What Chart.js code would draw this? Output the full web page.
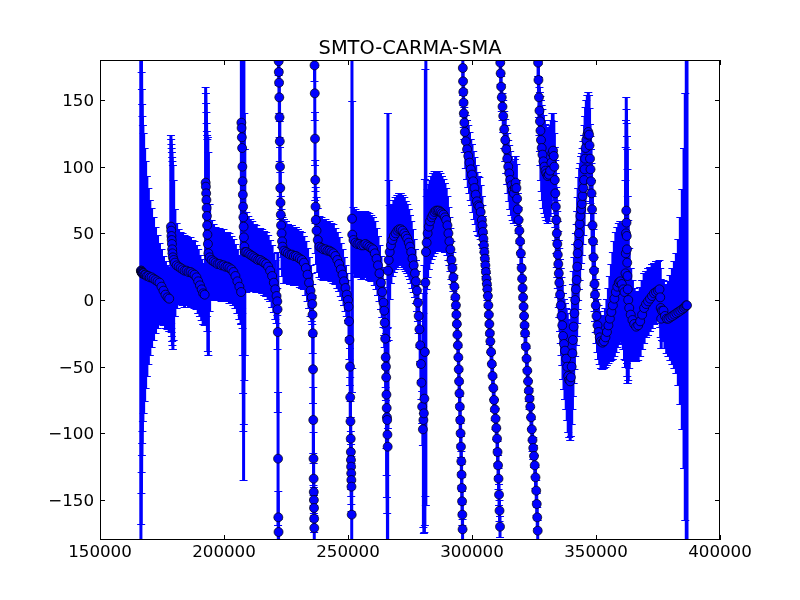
<!DOCTYPE html>
<html>
<head>
<meta charset="utf-8">
<script src="https://cdn.jsdelivr.net/npm/chart.js@4.4.0/dist/chart.umd.min.js"></script>
<style>
  html, body { margin: 0; padding: 0; background: #fff; }
</style>
</head>
<body>
<canvas id="phaseChart" width="800" height="600"></canvas>
<script>
// DATA
// time in units of 1000, closure phase and its error in degrees
const time = [
  166.5, 166.6, 166.7, 166.8, 166.9, 167.0, 167.1, 167.3, 167.6, 168.0, 168.4, 168.9, 169.5, 170.1, 170.8, 171.6, 172.4, 173.2, 174.0, 174.8, 175.6, 176.4, 177.2,
  177.9, 178.6, 178.7, 178.8, 178.9, 179.0, 179.1, 179.2, 179.4, 179.7,
  180.2, 180.9, 181.7, 182.5, 183.3, 184.1, 184.9, 185.7, 186.5, 187.3, 188.1, 188.9, 189.6, 190.3, 191.0, 191.6, 192.2,
  192.6, 192.7, 192.8, 192.9, 193.0, 193.1, 193.2, 193.3, 193.5, 193.7,
  194.2, 195.0, 195.8, 196.6, 197.4, 198.2, 199.0, 199.8, 200.6, 201.4, 202.2, 203.0, 203.8, 204.6, 205.4, 206.2, 206.9,
  207.0, 207.1, 207.2, 207.3, 207.4, 207.5, 207.6, 207.7, 207.8, 207.9, 208.0, 208.2, 208.4,
  209.0, 209.8, 210.6, 211.4, 212.2, 213.0, 213.8, 214.6, 215.4, 216.2, 217.0, 217.8, 218.6, 219.4, 220.1, 220.7, 221.2,
  221.5, 221.6, 221.7, 221.8, 221.9, 222.0, 222.05, 222.1, 222.2, 222.3, 222.4, 222.5, 222.6, 222.7, 222.8, 222.9, 223.0, 223.2, 223.4, 223.6,
  224.2, 225.0, 225.8, 226.6, 227.4, 228.2, 229.0, 229.8, 230.6, 231.4, 232.2, 233.0, 233.7, 234.3, 234.9, 235.4,
  235.6, 235.7, 235.8, 235.9, 236.0, 236.1, 236.15, 236.2, 236.25, 236.3, 236.35, 236.4, 236.5, 236.6, 236.7, 236.8, 236.9, 237.0,
  237.3, 237.8, 238.5, 239.3, 240.1, 240.9, 241.7, 242.5, 243.3, 244.1, 244.9, 245.7, 246.4, 247.1, 247.8, 248.4, 249.0, 249.5, 250.0,
  250.2, 250.4, 250.6, 250.8, 250.9, 251.0, 251.1, 251.15, 251.2, 251.25, 251.3, 251.35, 251.4, 251.5, 251.6, 251.7,
  252.2, 253.0, 253.8, 254.6, 255.4, 256.2, 257.0, 257.8, 258.6, 259.4, 260.1, 260.8, 261.5, 262.1, 262.7, 263.3, 263.8, 264.3,
  264.6, 264.8, 265.0, 265.2, 265.3, 265.4, 265.5, 265.6, 265.7, 265.8, 265.9, 266.0,
  266.1, 266.4, 266.8, 267.3, 267.9, 268.5, 269.2, 269.9, 270.6, 271.3, 272.0, 272.7, 273.3, 273.9, 274.5,
  275.0, 275.5, 276.0, 276.5, 277.0, 277.4, 277.8, 278.2, 278.5, 278.8, 279.1, 279.4, 279.6, 279.9, 280.2,
  280.4, 280.6, 280.8, 281.0, 281.2, 281.4,
  281.7, 282.1, 282.6, 283.1, 283.7, 284.3, 284.9, 285.5, 286.1, 286.7, 287.3, 287.9, 288.5, 289.1, 289.6, 290.1, 290.5, 290.9, 291.3, 291.7,
  292.1, 292.5, 292.9, 293.3, 293.5, 293.7, 293.9, 294.1, 294.3, 294.5, 294.65, 294.8, 294.95, 295.1, 295.25, 295.4, 295.55, 295.7, 295.8, 295.9,
  296.0, 296.1, 296.2,
  296.3, 296.4, 296.5, 296.6, 296.7, 296.9, 297.1, 297.5, 298.0, 298.5, 299.0, 299.5, 300.0, 300.5, 301.0, 301.5, 302.0, 302.5, 303.0, 303.5,
  304.0, 304.2, 304.4, 304.6, 304.8, 305.0, 305.2, 305.4, 305.6, 305.8, 306.0, 306.2, 306.4, 306.6, 306.8, 307.0, 307.2, 307.4, 307.7, 308.0,
  308.3, 308.6, 308.9, 309.2, 309.5, 309.8, 310.1, 310.3, 310.5, 310.7, 310.9, 311.1, 311.3,
  311.4, 311.55, 311.75, 312.0, 312.3, 312.6, 313.0, 313.4, 313.8, 314.2, 314.6, 315.0, 315.4, 315.9, 316.4, 316.9, 317.3, 317.6, 317.9, 318.2,
  318.5, 318.8, 319.1, 319.4, 319.7, 320.0, 320.2, 320.4, 320.6, 320.8, 321.0, 321.2, 321.4, 321.7, 322.0, 322.3, 322.6, 322.9, 323.2, 323.5,
  323.8, 324.1, 324.4, 324.7, 325.0, 325.3, 325.6, 325.9, 326.1, 326.3, 326.5,
  326.65, 326.8, 327.0, 327.2, 327.4, 327.6, 327.8, 328.1, 328.4, 328.8, 329.2, 329.6, 330.0, 330.5, 331.0, 331.5, 332.0, 332.4, 332.7, 333.0,
  333.2, 333.4, 333.6, 333.8, 334.0, 334.2, 334.4, 334.6, 334.8, 335.0, 335.2, 335.5, 335.8, 336.1, 336.4, 336.7, 337.1, 337.5, 338.0, 338.4,
  338.8, 339.2, 339.6,
  339.9, 340.2, 340.5, 340.7, 341.0, 341.3, 341.6, 341.9, 342.2, 342.4, 342.6, 342.8, 343.1, 343.4, 343.7, 344.0, 344.3, 344.6, 344.9, 345.2,
  345.4, 345.6, 345.8, 346.1, 346.5, 346.9, 347.2,
  347.4, 347.6, 347.8, 348.0, 348.2, 348.4, 348.6, 348.8, 349.0, 349.2, 349.4, 349.6, 349.9, 350.2, 350.6, 351.0, 351.5, 352.0, 352.6, 353.2,
  353.8, 354.4, 355.0, 355.6, 356.2, 356.8, 357.4, 358.0, 358.6, 359.2, 359.8, 360.4, 361.0, 361.5, 361.9, 362.0, 362.1, 362.2, 362.3, 362.4,
  362.5, 362.6, 362.7, 362.8, 363.0, 363.4, 364.0, 364.7, 365.4, 366.2, 367.0, 367.8, 368.6, 369.4, 370.2, 371.0, 371.8, 372.6, 373.4, 374.2,
  375.0, 375.6, 375.9, 376.1, 376.3, 376.6, 377.2, 377.8, 378.5, 379.2, 380.0, 380.8, 381.6, 382.4, 383.2, 384.0, 384.8, 385.5, 386.0, 386.4,
  386.7
];

const phase = [
  22, 22, 21, 21, 21, 20, 20, 20, 20, 19, 19, 18, 18, 17, 17, 16, 15, 14, 13, 10, 7, 4, 2,
  1, 55, 52, 48, 45, 42, 38, 35, 32, 30,
  28, 26, 25, 24, 23, 22, 22, 21, 21, 20, 19, 17, 14, 11, 8, 5, 4,
  88, 85, 80, 75, 69, 63, 56, 49, 42, 35,
  32, 30, 29, 28, 27, 27, 26, 26, 25, 25, 24, 23, 21, 18, 14, 10, 6,
  133, 129, 122, 114, 100, 89, 79, 70, 62, 55, 47, 40, 36,
  36, 35, 34, 33, 32, 31, 30, 30, 29, 28, 27, 25, 22, 18, 13, 8, 3,
  -1, -7, -24, -119, -163, -174, 179, 171, 163, 152, 137, 119, 100, 84, 73, 64, 56, 50, 44, 40,
  37, 36, 35, 34, 34, 33, 33, 32, 31, 30, 28, 24, 19, 13, 7, 2,
  -3, -11, -25, -52, -90, -119, -134, -144, -150, -156, -164, -171, 176, 155, 121, 90, 70, 60,
  52, 45, 40, 39, 38, 38, 37, 37, 36, 35, 33, 30, 27, 23, 19, 14, 9, 4, 0,
  -5, -16, -30, -50, -73, -91, -104, -114, -120, -125, -130, -135, -140, -161, 61, 49,
  45, 43, 42, 42, 41, 41, 42, 41, 40, 39, 38, 35, 31, 26, 20, 13, 6, -2,
  -8, -17, -29, -43, -50, -58, -71, -81, -88, -90, -101, -110,
  22, 30, 36, 41, 45, 48, 50, 52, 53, 53, 52, 50, 48, 46, 43,
  40, 36, 31, 26, 20, 14, 7, -2, -12, -22, -34, -48, -62, -80, -97,
  -90, -85, -74, -39, 13, 36,
  43, 50, 55, 59, 62, 64, 66, 67, 67, 67, 66, 65, 64, 62, 60, 56, 50, 44, 38, 30,
  24, 17, 10, 2, -4, -11, -18, -26, -34, -43, -52, -61, -70, -80, -90, -100, -110, -121, -131, -141,
  -151, -161, -172,
  174, 164, 156, 148, 140, 133, 126, 119, 113, 108, 103, 98, 94, 89, 84, 79, 74, 71, 70, 66,
  60, 56, 51, 46, 41, 36, 31, 26, 21, 16, 12, 8, 3, -4, -11, -18, -25, -31, -39, -48,
  -57, -66, -75, -82, -89, -96, -104, -114, -124, -134, -146, -158, -170,
  178, 170, 160, 152, 145, 138, 128, 120, 113, 106, 100, 95, 90, 86, 82, 80, 84, 88, 84, 76,
  68, 60, 52, 44, 35, 24, 16, 9, 2, -5, -12, -19, -25, -35, -44, -53, -61, -68, -74, -80,
  -88, -97, -105, -111, -117, -124, -133, -143, -153, -163, -173,
  178, 165, 152, 142, 134, 127, 120, 114, 109, 104, 100, 97, 95, 93, 94, 97, 103, 110, 112, 108,
  100, 90, 80, 70, 60, 50, 42, 34, 27, 20, 13, 4, -4, -12, -19, -27, -33, -38, -44, -50,
  -57, -60, -61,
  -58, -50, -40, -30, -20, -10, 0, 8, 15, 25, 35, 42, 50, 57, 63, 68, 72, 78, 84, 90,
  98, 106, 114, 120, 124, 126, 124,
  116, 106, 98, 89, 80, 68, 56, 44, 32, 22, 12, 4, -4, -12, -19, -24, -28, -31, -32, -31,
  -28, -24, -19, -14, -9, -4, 1, 6, 10, 13, 14, 12, 8, 6, 20, 35, 50, 67, 58, 48,
  38, 28, 18, 8, 0, -6, -11, -15, -18, -20, -19, -16, -11, -6, -3, -1, 1, 3, 5, 6,
  7, 8, 2, -6, -14, -8, -8, -12, -14, -14, -13, -12, -11, -10, -9, -8, -7, -6, -5, -4,
  -4
];

const phaseErr = [
  260, 190, 166, 150, 137, 127, 118, 111, 105, 95, 85, 75, 66, 58, 52, 46, 40, 35, 30, 28, 26, 25, 24,
  24, 69, 69, 69, 69, 69, 69, 69, 69, 60,
  40, 32, 28, 27, 27, 27, 26, 26, 26, 25, 25, 24, 24, 23, 23, 23, 23,
  72, 70, 68, 66, 64, 64, 68, 72, 80, 76,
  40, 30, 28, 27, 27, 27, 27, 27, 26, 26, 26, 25, 25, 24, 24, 24, 24,
  150, 140, 130, 120, 110, 110, 120, 140, 160, 190, 140, 100, 77,
  30, 28, 27, 26, 25, 25, 24, 24, 24, 24, 24, 24, 23, 23, 22, 22, 20,
  10, 30, 60, 50, 20, 10, 10, 10, 10, 12, 15, 15, 15, 12, 12, 14, 16, 18, 20, 22,
  24, 23, 22, 22, 22, 22, 22, 21, 21, 21, 20, 20, 20, 19, 19, 18,
  15, 15, 15, 25, 25, 20, 12, 10, 10, 10, 10, 10, 12, 20, 20, 15, 12, 25,
  25, 24, 23, 23, 23, 23, 22, 22, 22, 22, 21, 21, 20, 20, 19, 18, 17, 16, 15,
  12, 12, 14, 14, 15, 15, 16, 16, 16, 17, 17, 18, 18, 25, 130, 100,
  25, 25, 25, 25, 25, 25, 25, 25, 25, 25, 24, 24, 23, 22, 21, 20, 19, 18,
  18, 18, 20, 22, 25, 30, 40, 50, 60, 70, 80, 90,
  118, 60, 35, 28, 27, 27, 27, 27, 27, 27, 27, 27, 26, 26, 25,
  24, 23, 22, 20, 18, 16, 15, 14, 13, 13, 12, 12, 12, 12, 12,
  80, 90, 100, 130, 160, 190,
  35, 33, 32, 31, 31, 31, 31, 30, 30, 30, 29, 28, 27, 26, 24, 22, 20, 18, 16, 14,
  12, 10, 9, 8, 8, 8, 8, 8, 8, 8, 8, 8, 8, 8, 8, 8, 8, 8, 8, 8,
  8, 8, 8,
  10, 10, 10, 10, 10, 12, 15, 20, 22, 23, 23, 23, 23, 23, 23, 22, 22, 22, 22, 20,
  18, 15, 12, 10, 9, 8, 8, 8, 8, 8, 8, 8, 8, 8, 8, 8, 8, 8, 8, 8,
  8, 8, 8, 8, 8, 8, 8, 8, 8, 8, 8, 8, 8,
  8, 8, 8, 10, 10, 12, 14, 16, 18, 19, 20, 21, 22, 22, 22, 22, 22, 20, 18, 14,
  12, 10, 9, 8, 8, 8, 8, 8, 8, 8, 8, 8, 8, 8, 8, 8, 8, 8, 8, 8,
  8, 8, 8, 8, 8, 8, 8, 8, 8, 8, 8,
  10, 12, 15, 18, 22, 26, 30, 32, 34, 35, 35, 35, 35, 35, 35, 34, 32, 30, 28, 26,
  25, 25, 25, 25, 25, 25, 25, 25, 25, 25, 26, 27, 28, 29, 30, 32, 34, 36, 38, 40,
  42, 43, 44,
  44, 43, 42, 42, 42, 42, 42, 42, 42, 42, 42, 42, 42, 42, 40, 40, 38, 36, 35, 34,
  33, 32, 31, 30, 30, 30, 30,
  28, 26, 25, 24, 23, 22, 22, 21, 21, 20, 20, 20, 20, 20, 20, 20, 20, 20, 20, 20,
  22, 25, 28, 32, 36, 40, 43, 45, 45, 45, 45, 45, 45, 50, 70, 80, 85, 85, 85, 85,
  85, 85, 80, 70, 60, 45, 35, 30, 27, 26, 26, 26, 26, 26, 25, 25, 24, 24, 23, 23,
  22, 22, 22, 22, 22, 22, 23, 24, 26, 28, 32, 36, 40, 45, 55, 70, 90, 120, 160, 200,
  260
];

const xTicks = [150000, 200000, 250000, 300000, 350000, 400000];
const yTicks = [-150, -100, -50, 0, 50, 100, 150];
const chartTitle = 'SMTO-CARMA-SMA';

const nPts = Math.min(time.length, phase.length, phaseErr.length);
if (nPts !== time.length || nPts !== phase.length || nPts !== phaseErr.length) {
  console.warn('array lengths differ', time.length, phase.length, phaseErr.length);
}
const points = [];
for (let i = 0; i < nPts; i++) {
  points.push({ x: time[i] * 1000, y: phase[i], err: phaseErr[i] });
}

// ERROR BARS (drawn under the markers)
const errorBars = {
  id: 'errorBars',
  beforeDatasetsDraw(chart) {
    const { ctx, chartArea: area, scales: { x, y } } = chart;
    ctx.save();
    ctx.beginPath();
    ctx.rect(area.left, area.top, area.right - area.left, area.bottom - area.top);
    ctx.clip();
    ctx.strokeStyle = '#0000ff';
    chart.data.datasets[0].data.forEach(p => {
      const px = x.getPixelForValue(p.x);
      const top = Math.round(y.getPixelForValue(p.y + p.err)) + 0.5;
      const bot = Math.round(y.getPixelForValue(p.y - p.err)) + 0.5;
      ctx.lineWidth = 3;
      ctx.beginPath();
      ctx.moveTo(px, top);
      ctx.lineTo(px, bot);
      ctx.stroke();
      ctx.lineWidth = 1;
      ctx.beginPath();
      ctx.moveTo(px - 4, top); ctx.lineTo(px + 4, top);
      ctx.moveTo(px - 4, bot); ctx.lineTo(px + 4, bot);
      ctx.stroke();
    });
    ctx.restore();
  }
};

// FRAME, INWARD TICKS, LABELS, TITLE
const mplAxes = {
  id: 'mplAxes',
  afterDraw(chart) {
    const { ctx, chartArea: area, scales: { x, y } } = chart;
    const tickLen = 5;
    ctx.save();
    ctx.strokeStyle = '#000';
    ctx.lineWidth = 1;
    ctx.strokeRect(area.left + 0.5, area.top + 0.5, area.right - area.left - 1, area.bottom - area.top - 1);

    ctx.fillStyle = '#000';
    ctx.font = '16.7px "DejaVu Sans"';
    ctx.beginPath();
    xTicks.forEach(v => {
      const px = Math.round(x.getPixelForValue(v)) + 0.5;
      ctx.moveTo(px, area.bottom); ctx.lineTo(px, area.bottom - tickLen);
      ctx.moveTo(px, area.top); ctx.lineTo(px, area.top + tickLen);
    });
    yTicks.forEach(v => {
      const py = Math.round(y.getPixelForValue(v)) + 0.5;
      ctx.moveTo(area.left, py); ctx.lineTo(area.left + tickLen, py);
      ctx.moveTo(area.right, py); ctx.lineTo(area.right - tickLen, py);
    });
    ctx.stroke();

    ctx.textAlign = 'center';
    ctx.textBaseline = 'alphabetic';
    xTicks.forEach(v => {
      ctx.fillText(String(v), x.getPixelForValue(v), area.bottom + 17);
    });
    ctx.textAlign = 'right';
    yTicks.forEach(v => {
      const label = v < 0 ? '\u2212' + Math.abs(v) : String(v);
      ctx.fillText(label, area.left - 6, y.getPixelForValue(v) + 6);
    });

    ctx.textAlign = 'center';
    ctx.font = '19.4px "DejaVu Sans"';
    ctx.fillText(chartTitle, (area.left + area.right) / 2, area.top - 6);
    ctx.restore();
  }
};

const ctx = document.getElementById('phaseChart').getContext('2d');
new Chart(ctx, {
  type: 'scatter',
  data: {
    datasets: [{
      data: points,
      pointRadius: 4.5,
      pointHoverRadius: 4.5,
      pointBackgroundColor: '#0000ff',
      pointBorderColor: '#000',
      pointBorderWidth: 0.7,
      showLine: false
    }]
  },
  options: {
    responsive: false,
    animation: false,
    events: [],
    layout: { padding: { left: 100, right: 80, top: 60, bottom: 60 } },
    plugins: {
      legend: { display: false },
      tooltip: { enabled: false }
    },
    scales: {
      x: { type: 'linear', display: false, min: 150000, max: 400000 },
      y: { type: 'linear', display: false, min: -180, max: 180 }
    }
  },
  plugins: [errorBars, mplAxes]
});
</script>
</body>
</html>
